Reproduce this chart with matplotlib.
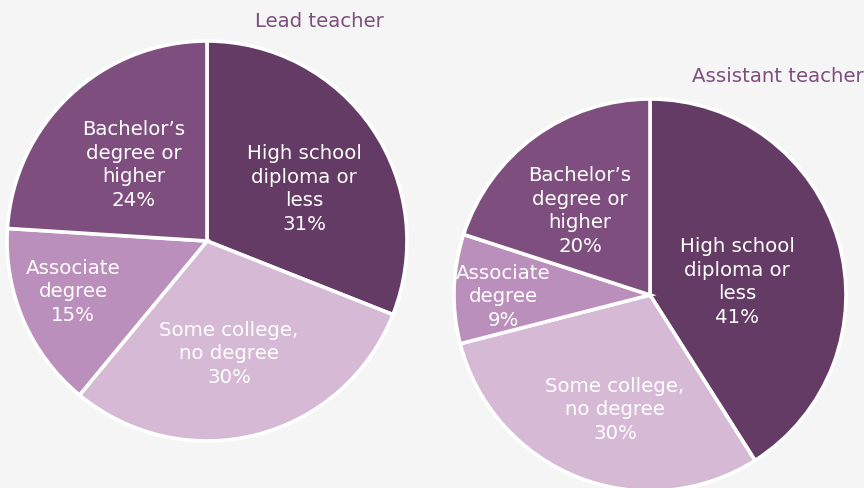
import matplotlib
matplotlib.use("Agg")
import matplotlib.pyplot as plt

categories = ["High school\ndiploma or\nless", "Some college,\nno degree", "Associate\ndegree", "Bachelor\u2019s\ndegree or\nhigher"]
lead_values = [31, 30, 15, 24]
assistant_values = [41, 30, 9, 20]
titles = ["Lead teacher", "Assistant teacher"]

colors = ["#633B64", "#D5B9D5", "#BB8FBB", "#7E4F7E"]
BG = "#F5F5F5"
TITLE_C = "#7E4F7E"

W, H = 864, 489
fig = plt.figure(figsize=(W / 100, H / 100), dpi=100, facecolor=BG)
ax = fig.add_axes([0, 0, 1, 1])
ax.set_facecolor(BG)

plt.rcParams['font.family'] = ['DejaVu Sans']

# pixel-space centres (y measured from top) and radii
pies = [
    dict(values=lead_values, center=(207, 242), r=200,
         offsets=[(97, -53), (22, 112), (-134, 50), (-73, -77)],
         title=titles[0], title_pos=(319, 22), title_ha="center"),
    dict(values=assistant_values, center=(650, 296), r=196,
         offsets=[(87, -14), (-35, 114), (-147, 1), (-70, -85)],
         title=titles[1], title_pos=(864, 77), title_ha="right"),
]

for p in pies:
    cx, cy = p["center"]
    ax.pie(p["values"], colors=colors, startangle=90, counterclock=False,
           center=(cx, H - cy), radius=p["r"],
           wedgeprops=dict(edgecolor="white", linewidth=2.6), frame=True)
    for cat, v, (dx, dy) in zip(categories, p["values"], p["offsets"]):
        ax.text(cx + dx, H - (cy + dy), f"{cat}\n{v}%", ha="center", va="center",
                color="white", fontsize=14.2, linespacing=1.3)
    tx, ty = p["title_pos"]
    ax.text(tx, H - ty, p["title"], ha=p["title_ha"], va="center",
            color=TITLE_C, fontsize=14.2)

ax.set_xlim(0, W)
ax.set_ylim(0, H)
ax.set_aspect("equal")
ax.axis("off")
fig.savefig("out.png", dpi=100, facecolor=BG)
